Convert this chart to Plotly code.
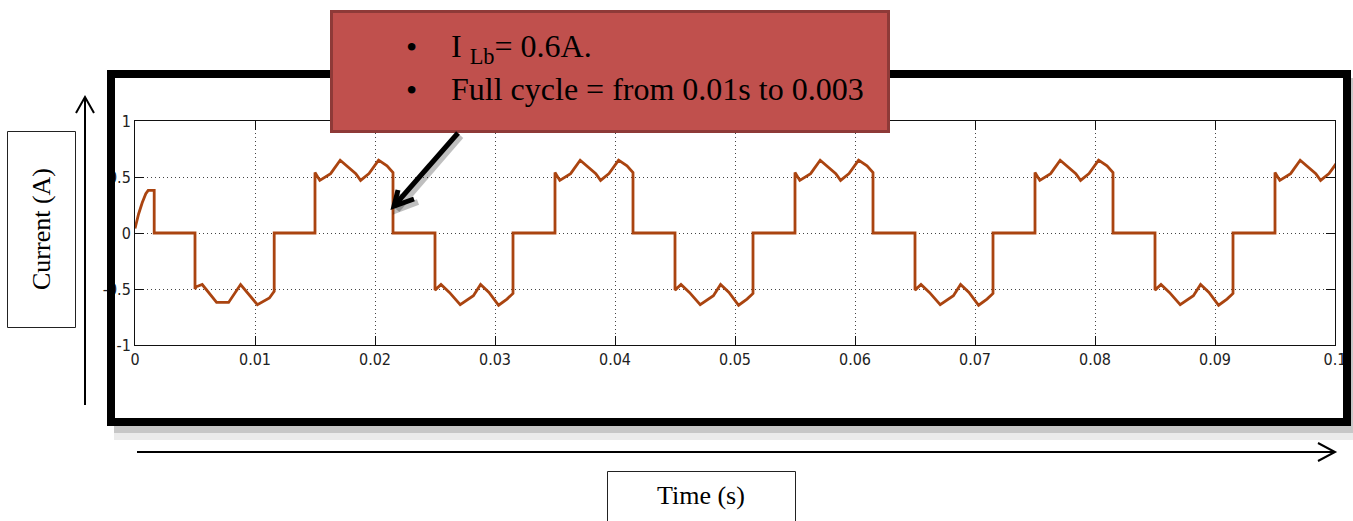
import plotly.graph_objects as go

# ---- canvas ----
W, H = 1353, 521

# ---- data: inductor current i_Lb (A) versus time (s) ----
# start-up transient and first negative half-cycle (time, current)
startup_t = [0.0, 0.0003, 0.0006, 0.0009, 0.0011, 0.0016, 0.0016,
             0.0050, 0.0050, 0.0051, 0.0056, 0.0068, 0.0078, 0.0088,
             0.0102, 0.0112, 0.0116, 0.0116]
startup_i = [0.04, 0.17, 0.27, 0.35, 0.38, 0.38, 0.0,
             0.0, -0.50, -0.48, -0.46, -0.62, -0.62, -0.46,
             -0.64, -0.58, -0.52, 0.0]

# steady-state positive conduction interval: offset from its start (s), current (A)
pos_dt = [0.0, 0.0, 0.0004, 0.0013, 0.0021, 0.0028, 0.0034, 0.0038,
          0.0045, 0.0053, 0.0060, 0.0065, 0.0065]
pos_i = [0.0, 0.54, 0.47, 0.53, 0.65, 0.59, 0.53, 0.47,
         0.53, 0.65, 0.60, 0.54, 0.0]

# steady-state negative conduction interval
neg_dt = [0.0, 0.0, 0.0005, 0.0012, 0.0021, 0.0032, 0.0038,
          0.0045, 0.0053, 0.0060, 0.0065, 0.0065]
neg_i = [0.0, -0.51, -0.46, -0.53, -0.64, -0.56, -0.46,
         -0.53, -0.645, -0.59, -0.54, 0.0]

# start times of the conduction intervals
pos_starts = [0.015, 0.035, 0.055, 0.075, 0.095]
neg_starts = [0.025, 0.045, 0.065, 0.085]

# axis ticks
x_ticks = [0.0, 0.01, 0.02, 0.03, 0.04, 0.05, 0.06, 0.07, 0.08, 0.09, 0.1]
x_tick_text = ["0", "0.01", "0.02", "0.03", "0.04", "0.05",
               "0.06", "0.07", "0.08", "0.09", "0.1"]
y_ticks = [-1, -0.5, 0, 0.5, 1]
y_tick_text = ["-1", "-0.5", "0", "0.5", "1"]

# ---- assemble the waveform ----
t = list(startup_t)
i = list(startup_i)
intervals = sorted([(s, pos_dt, pos_i) for s in pos_starts] +
                   [(s, neg_dt, neg_i) for s in neg_starts])
for start, dts, vals in intervals:
    t += [start + d for d in dts]
    i += vals


def px(x):
    return x / W


def py(y):
    return 1 - y / H


fig = go.Figure()
fig.add_trace(go.Scatter(x=t, y=i, mode="lines",
                         line=dict(color="#AA4410", width=2.8),
                         hoverinfo="skip", showlegend=False))

tick_font = dict(family="Liberation Sans Narrow, DejaVu Sans Condensed, sans-serif",
                 size=16, color="#222222")
grid_dash = "1px,3px"

fig.update_xaxes(domain=[px(135), px(1335)], range=[0, 0.1],
                 tickvals=x_ticks, ticktext=x_tick_text, tickfont=tick_font,
                 showline=True, linecolor="#111111", linewidth=1, mirror="ticks",
                 ticks="inside", ticklen=9, tickcolor="#111111",
                 showgrid=True, gridcolor="#444444", griddash=grid_dash, gridwidth=1,
                 zeroline=False, fixedrange=True, automargin=False)
fig.update_yaxes(domain=[py(345), py(121)], range=[-1, 1],
                 tickvals=y_ticks, ticktext=y_tick_text, tickfont=tick_font,
                 showline=True, linecolor="#111111", linewidth=1, mirror="ticks",
                 ticks="inside", ticklen=9, tickcolor="#111111",
                 showgrid=True, gridcolor="#444444", griddash=grid_dash, gridwidth=1,
                 zeroline=False, fixedrange=True, automargin=False)

shapes = []


def rect(x0, y0, x1, y1, **kw):
    d = dict(type="rect", xref="paper", yref="paper",
             x0=px(x0), x1=px(x1), y0=py(y1), y1=py(y0))
    d.update(kw)
    shapes.append(d)


def line(x0, y0, x1, y1, color="black", width=2, layer="above"):
    shapes.append(dict(type="line", xref="paper", yref="paper",
                       x0=px(x0), y0=py(y0), x1=px(x1), y1=py(y1),
                       line=dict(color=color, width=width), layer=layer))


def poly(points, color="black", width=2):
    p = "M " + " L ".join(f"{px(a)},{py(b)}" for a, b in points)
    shapes.append(dict(type="path", xref="paper", yref="paper", path=p,
                       line=dict(color=color, width=width), layer="above"))


# drop shadow and heavy frame around the scope plot
rect(114, 426, 1353, 433, fillcolor="rgba(0,0,0,0.22)", line=dict(width=0), layer="below")
rect(114, 433, 1353, 440, fillcolor="rgba(0,0,0,0.08)", line=dict(width=0), layer="below")
rect(1351, 78, 1353, 426, fillcolor="rgba(0,0,0,0.22)", line=dict(width=0), layer="below")
rect(111, 74, 1347, 422, line=dict(color="black", width=8), layer="above")

# axis direction arrows
line(85, 405, 85, 97)
poly([(76, 113), (85, 97), (94, 113)])
line(137, 452, 1335, 452)
poly([(1318, 443), (1335, 452), (1318, 461)])

# axis title boxes
rect(7.5, 131.5, 75.5, 327.5, line=dict(color="#222222", width=1), fillcolor="white")
rect(607.5, 471.5, 795.5, 521.5, line=dict(color="#222222", width=1), fillcolor="white")

# callout box
rect(331.5, 11.5, 888.5, 131.5, fillcolor="#C0504D",
     line=dict(color="#8E3A38", width=3), layer="above")

# callout pointer with soft shadow
line(461, 136, 397, 210, color="rgba(0,0,0,0.25)", width=6)
poly([(401, 194), (397, 210), (418, 202)], color="rgba(0,0,0,0.25)", width=6)
line(458, 133, 394, 206, color="black", width=5)
poly([(398, 190), (394, 206), (414, 199)], color="black", width=5)

serif = "Liberation Serif, Times New Roman, serif"
annotations = [
    dict(text="Current (A)", x=px(41), y=py(229), textangle=-90,
         font=dict(family=serif, size=26, color="black")),
    dict(text="Time (s)", x=px(701), y=py(495),
         font=dict(family=serif, size=26, color="black")),
    dict(text="•", x=px(411), y=py(47), font=dict(family=serif, size=32, color="black")),
    dict(text="•", x=px(411), y=py(90), font=dict(family=serif, size=32, color="black")),
    dict(text="I <sub>Lb</sub>= 0.6A.", x=px(449), y=py(49), xanchor="left",
         font=dict(family=serif, size=32, color="black")),
    dict(text="Full cycle = from 0.01s to 0.003", x=px(449), y=py(89), xanchor="left",
         font=dict(family=serif, size=32, color="black")),
]
for a in annotations:
    a.setdefault("xanchor", "center")
    a.update(xref="paper", yref="paper", yanchor="middle", showarrow=False)

fig.update_layout(width=W, height=H, autosize=False,
                  margin=dict(l=0, r=0, t=0, b=0, pad=0),
                  paper_bgcolor="white", plot_bgcolor="white",
                  shapes=shapes, annotations=annotations, showlegend=False)

# keep the page flush with the window edges
page_css = ("document.body.style.margin='0';"
            "document.body.style.padding='0';"
            "document.body.style.overflow='hidden';")
fig.write_html("out.html", config={"displayModeBar": False}, post_script=page_css)
